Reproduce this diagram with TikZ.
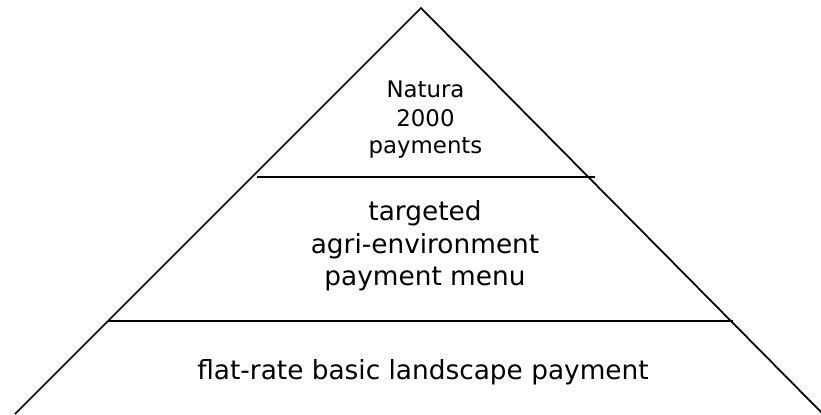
\documentclass[tikz,border=0pt]{standalone}
\usepackage{fontspec}
\setmainfont{DejaVu Sans}
\tikzset{
    tier/.style={anchor=base, inner sep=0pt, font=\fontsize{15}{18}\selectfont},
    toptier/.style={anchor=base, inner sep=0pt, font=\fontsize{13}{16}\selectfont}
}
\begin{document}
\begin{tikzpicture}[line width=1pt]
        \useasboundingbox (0, 0) rectangle (16.42, 8.28);
        \coordinate (apex) at (8.42, 8.12);
        \coordinate (bl) at (0.30, 0);
        \coordinate (br) at (16.46, 0);
        \draw(bl) to (apex) to (br);

        \draw(5.14, 4.74) to (11.90, 4.74);
        \draw(2.16, 1.86) to (14.66, 1.86);

        \node[toptier] (natura) at(8.51, 6.32){Natura};
        \node[toptier] (year) at(8.51, 5.74){2000};
        \node[toptier] (pay) at(8.51, 5.20){payments};

        \node[tier] (target) at(8.50, 3.86){targeted};
        \node[tier] (agri) at(8.50, 3.21){agri-environment};
        \node[tier] (menu) at(8.50, 2.57){payment menu};

        \node[tier] (flat) at(8.46, 0.70){flat-rate basic landscape payment};
    \end{tikzpicture}
\end{document}
